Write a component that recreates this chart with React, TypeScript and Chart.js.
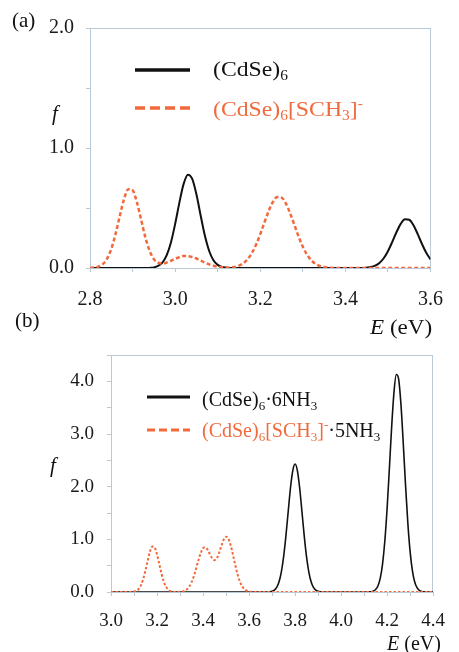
import React, { useEffect, useRef } from "react";
import { Chart, registerables } from "chart.js";

Chart.register(...registerables);

const ORANGE = "#f26a3c";
const BLACK = "#111111";
const FRAME = "#b9cad6";
const SERIF = "'Liberation Serif', 'Times New Roman', serif";
const CANVAS_SERIF = "Liberation Serif";

// ---------- Panel (a): (CdSe)6 vs (CdSe)6[SCH3]- ----------
const aRange = [2.8, 3.6];
const aYRange = [0, 2.0];
const aBlackE = [2.80, 2.93, 2.94, 2.95, 2.96, 2.97, 2.98, 2.99, 3.00, 3.01, 3.02, 3.03, 3.04, 3.05, 3.06, 3.07, 3.08, 3.09, 3.10, 3.11, 3.12, 3.13,
  3.44, 3.45, 3.46, 3.47, 3.48, 3.49, 3.50, 3.51, 3.52, 3.53, 3.54, 3.55, 3.56, 3.57, 3.58, 3.59, 3.60];
const aBlackF = [0, 0, 0.001, 0.005, 0.017, 0.045, 0.105, 0.211, 0.366, 0.545, 0.701, 0.778, 0.744, 0.614, 0.437, 0.268, 0.142, 0.065, 0.026, 0.009, 0.003, 0,
  0, 0.003, 0.008, 0.020, 0.042, 0.081, 0.140, 0.216, 0.298, 0.368, 0.406, 0.402, 0.356, 0.282, 0.200, 0.127, 0.072];
const aOrangeE = [2.80, 2.81, 2.82, 2.83, 2.84, 2.85, 2.86, 2.87, 2.88, 2.89, 2.90, 2.91, 2.92, 2.93, 2.94, 2.95, 2.96, 2.97, 2.98, 2.99,
  3.00, 3.01, 3.02, 3.03, 3.04, 3.05, 3.06, 3.07, 3.08, 3.09, 3.10, 3.11, 3.12, 3.13, 3.14, 3.15, 3.16, 3.17, 3.18, 3.19,
  3.20, 3.21, 3.22, 3.23, 3.24, 3.25, 3.26, 3.27, 3.28, 3.29, 3.30, 3.31, 3.32, 3.33, 3.34, 3.35, 3.36, 3.37, 3.38, 3.60];
const aOrangeF = [0.001, 0.004, 0.012, 0.032, 0.077, 0.159, 0.283, 0.434, 0.575, 0.657, 0.648, 0.550, 0.405, 0.257, 0.144, 0.074, 0.044, 0.037, 0.045, 0.060,
  0.076, 0.090, 0.099, 0.099, 0.092, 0.079, 0.062, 0.045, 0.030, 0.019, 0.011, 0.007, 0.005, 0.005, 0.009, 0.020, 0.039, 0.072, 0.123, 0.193,
  0.282, 0.381, 0.476, 0.552, 0.591, 0.587, 0.539, 0.458, 0.361, 0.263, 0.177, 0.111, 0.064, 0.034, 0.017, 0.008, 0.003, 0.001, 0, 0];

// ---------- Panel (b): (CdSe)6·6NH3 vs (CdSe)6[SCH3]-·5NH3 ----------
const bRange = [3.0, 4.4];
const bYRange = [0, 4.5];
const bBlackE = [3.00, 3.67, 3.68, 3.69, 3.70, 3.71, 3.72, 3.73, 3.74, 3.75, 3.76, 3.77, 3.78, 3.79, 3.80, 3.81, 3.82, 3.83, 3.84, 3.85, 3.86, 3.87, 3.88, 3.89, 3.90, 3.91, 3.92,
  4.11, 4.12, 4.13, 4.14, 4.15, 4.16, 4.17, 4.18, 4.19, 4.20, 4.21, 4.22, 4.23, 4.24, 4.25, 4.26, 4.27, 4.28, 4.29, 4.30, 4.31, 4.32, 4.33, 4.34, 4.35, 4.36, 4.37, 4.40];
const bBlackF = [0, 0, 0.001, 0.004, 0.013, 0.036, 0.087, 0.190, 0.374, 0.662, 1.057, 1.521, 1.974, 2.306, 2.430, 2.306, 1.974, 1.521, 1.057, 0.662, 0.374, 0.190, 0.087, 0.036, 0.013, 0.004, 0.001,
  0, 0.002, 0.005, 0.017, 0.046, 0.115, 0.259, 0.526, 0.963, 1.586, 2.355, 3.152, 3.800, 4.131, 4.045, 3.571, 2.840, 2.036, 1.316, 0.766, 0.401, 0.190, 0.081, 0.031, 0.011, 0.003, 0.001, 0];
const bOrangeE = [3.00, 3.08, 3.09, 3.10, 3.11, 3.12, 3.13, 3.14, 3.15, 3.16, 3.17, 3.18, 3.19, 3.20, 3.21, 3.22, 3.23, 3.24, 3.25, 3.26, 3.27, 3.28, 3.29,
  3.30, 3.31, 3.32, 3.33, 3.34, 3.35, 3.36, 3.37, 3.38, 3.39, 3.40, 3.41, 3.42, 3.43, 3.44, 3.45, 3.46, 3.47, 3.48, 3.49,
  3.50, 3.51, 3.52, 3.53, 3.54, 3.55, 3.56, 3.57, 3.58, 3.59, 3.60, 3.61, 3.62, 3.63, 4.40];
const bOrangeF = [0, 0, 0.002, 0.008, 0.023, 0.057, 0.127, 0.245, 0.412, 0.605, 0.775, 0.865, 0.841, 0.714, 0.528, 0.340, 0.191, 0.094, 0.040, 0.015, 0.005, 0.001, 0.001,
  0.003, 0.009, 0.023, 0.050, 0.100, 0.182, 0.299, 0.446, 0.604, 0.741, 0.831, 0.850, 0.802, 0.717, 0.637, 0.605, 0.642, 0.745, 0.879, 0.996,
  1.049, 1.012, 0.889, 0.709, 0.514, 0.338, 0.201, 0.109, 0.053, 0.024, 0.010, 0.004, 0.001, 0, 0];

const toPoints = (xs: number[], ys: number[]) => xs.map((x, i) => ({ x, y: ys[i] }));

const framePlugin = {
  id: "frame",
  beforeDatasetsDraw(chart: any) {
    const { ctx, chartArea } = chart;
    const { left, top, right, bottom } = chartArea;
    ctx.save();
    ctx.strokeStyle = FRAME;
    ctx.lineWidth = 1;
    ctx.strokeRect(Math.round(left) + 0.5, Math.round(top) + 0.5, Math.round(right - left) - 1, Math.round(bottom - top));
    ctx.restore();
  },
};

const samplesPlugin = {
  id: "samples",
  afterDraw(chart: any, _args: any, opts: any) {
    const { ctx } = chart;
    (opts.items || []).forEach((it: any) => {
      ctx.save();
      ctx.strokeStyle = it.color;
      ctx.lineWidth = it.width;
      ctx.setLineDash(it.dash || []);
      ctx.beginPath();
      ctx.moveTo(it.x0, it.y);
      ctx.lineTo(it.x1, it.y);
      ctx.stroke();
      ctx.restore();
    });
  },
};

function makeConfig(p: any) {
  const common = { pointRadius: 0, fill: false, cubicInterpolationMode: "monotone", borderCapStyle: "butt", borderJoinStyle: "round" };
  return {
    type: "line",
    data: {
      datasets: [
        { label: "orange", data: toPoints(p.oE, p.oF), borderColor: ORANGE, borderWidth: p.oWidth, borderDash: p.oDash, order: 0, ...common },
        { label: "black", data: toPoints(p.bE, p.bF), borderColor: BLACK, borderWidth: p.bWidth, order: 1, ...common },
      ],
    },
    options: {
      animation: false,
      responsive: false,
      devicePixelRatio: 1,
      layout: { padding: { left: 0, top: p.padTop, right: p.padRight, bottom: 0 } },
      plugins: { legend: { display: false }, tooltip: { enabled: false }, samples: { items: p.samples } },
      scales: {
        x: {
          type: "linear",
          min: p.xRange[0],
          max: p.xRange[1],
          afterFit: (s: any) => { s.height = p.xHeight; },
          ticks: {
            stepSize: 0.1,
            autoSkip: false,
            maxRotation: 0,
            padding: p.xPad,
            color: "#1a1a1a",
            font: { family: CANVAS_SERIF, size: p.tickSize },
            callback: (v: any, i: number) => (i % 2 === 0 ? Number(v).toFixed(1) : ""),
          },
          grid: { drawOnChartArea: false, drawTicks: true, tickLength: 4, color: FRAME },
          border: { color: FRAME, width: 1 },
        },
        y: {
          min: p.yRange[0],
          max: p.yRange[1],
          afterFit: (s: any) => { s.width = p.yWidth; },
          ticks: {
            stepSize: 0.5,
            autoSkip: false,
            padding: p.yPad,
            color: "#1a1a1a",
            font: { family: CANVAS_SERIF, size: p.tickSize },
            callback: (v: any) => (Math.abs(v - Math.round(v)) < 1e-6 ? Number(v).toFixed(1) : ""),
          },
          grid: { drawOnChartArea: false, drawTicks: true, tickLength: 4, color: FRAME },
          border: { color: FRAME, width: 1 },
        },
      },
    },
    plugins: [framePlugin, samplesPlugin],
  };
}

const Sub = ({ c }: { c: string }) => (
  <span style={{ fontSize: "0.65em", position: "relative", top: "0.3em" }}>{c}</span>
);
const Sup = ({ c }: { c: string }) => (
  <span style={{ fontSize: "0.65em", position: "relative", top: "-0.6em" }}>{c}</span>
);

const T = ({ left, top, size, color = "#111", italic = false, sx = 1, children }: any) => (
  <span
    style={{
      position: "absolute",
      left,
      top,
      fontSize: size,
      lineHeight: 1,
      fontFamily: SERIF,
      fontStyle: italic ? "italic" : "normal",
      color,
      whiteSpace: "nowrap",
      transform: sx !== 1 ? `scaleX(${sx})` : undefined,
      transformOrigin: "left center",
    }}
  >
    {children}
  </span>
);

export default function App() {
  const refA = useRef<HTMLCanvasElement>(null);
  const refB = useRef<HTMLCanvasElement>(null);

  useEffect(() => {
    const chartA = new Chart(refA.current as HTMLCanvasElement, makeConfig({
      oE: aOrangeE, oF: aOrangeF, bE: aBlackE, bF: aBlackF,
      oWidth: 2.5, oDash: [4, 2.5], bWidth: 2,
      xRange: aRange, yRange: aYRange,
      padTop: 28, padRight: 15, xHeight: 62, yWidth: 90,
      xPad: 16, yPad: 12, tickSize: 20,
      samples: [
        { x0: 135, x1: 190, y: 70, color: BLACK, width: 3.5 },
        { x0: 135, x1: 190, y: 108, color: ORANGE, width: 3.5, dash: [10, 5] },
      ],
    }) as any);
    const chartB = new Chart(refB.current as HTMLCanvasElement, makeConfig({
      oE: bOrangeE, oF: bOrangeF, bE: bBlackE, bF: bBlackF,
      oWidth: 2, oDash: [2.5, 2], bWidth: 1.6,
      xRange: bRange, yRange: bYRange,
      padTop: 25, padRight: 16, xHeight: 60, yWidth: 111,
      xPad: 14, yPad: 13, tickSize: 19,
      samples: [
        { x0: 147, x1: 190, y: 67, color: BLACK, width: 3 },
        { x0: 147, x1: 190, y: 100, color: ORANGE, width: 3, dash: [8, 4] },
      ],
    }) as any);
    let alive = true;
    const redraw = () => {
      if (!alive) return;
      chartA.update();
      chartB.update();
    };
    try {
      (document as any).fonts.load("20px 'Liberation Serif'").then(redraw, redraw);
    } catch (e) {
      /* ignore */
    }
    const t1 = setTimeout(redraw, 60);
    const t2 = setTimeout(redraw, 300);
    return () => {
      alive = false;
      clearTimeout(t1);
      clearTimeout(t2);
      chartA.destroy();
      chartB.destroy();
    };
  }, []);

  return (
    <div style={{ position: "absolute", left: 0, top: 0, width: 459, height: 652, background: "#fff", overflow: "hidden" }}>
      <canvas ref={refA} width={459} height={330} style={{ position: "absolute", left: 0, top: 0 }} />
      <canvas ref={refB} width={459} height={322} style={{ position: "absolute", left: 0, top: 330 }} />

      <T left={12} top={10} size={21}>(a)</T>
      <T left={52} top={103} size={21} italic>f</T>
      <T left={370} top={317} size={21} sx={1.1}><i>E</i> (eV)</T>
      <T left={213} top={59} size={21} sx={1.13}>(CdSe)<Sub c="6" /></T>
      <T left={213} top={99} size={21} sx={1.13} color={ORANGE}>(CdSe)<Sub c="6" />[SCH<Sub c="3" />]<Sup c="-" /></T>

      <T left={15} top={310} size={21}>(b)</T>
      <T left={50} top={455} size={21} italic>f</T>
      <T left={387} top={633} size={20}><i>E</i> (eV)</T>
      <T left={202} top={389} size={20}>(CdSe)<Sub c="6" />·6NH<Sub c="3" /></T>
      <T left={202} top={420} size={20}>
        <span style={{ color: ORANGE }}>(CdSe)<Sub c="6" />[SCH<Sub c="3" />]<Sup c="-" /></span>·5NH<Sub c="3" />
      </T>
    </div>
  );
}
